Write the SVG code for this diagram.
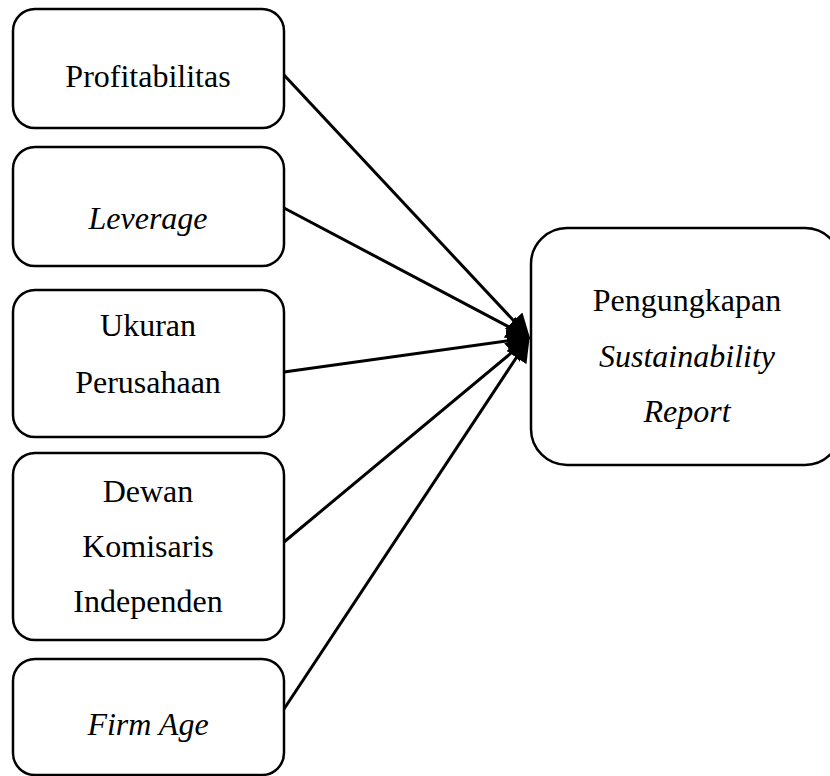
<svg xmlns="http://www.w3.org/2000/svg" width="830" height="776" viewBox="0 0 830 776">
<style>
.box{fill:#fff;stroke:#000;stroke-width:2.5}
.t{font-family:"Liberation Serif","Times New Roman",serif;font-size:32px;fill:#000;text-anchor:middle}
.i{font-style:italic}
.c{stroke:#000;stroke-width:3;fill:none;marker-end:url(#ah)}
</style>
<defs>
<marker id="ah" markerWidth="8" markerHeight="8" refX="7" refY="4" orient="auto" markerUnits="strokeWidth">
<path d="M0,0 L8,4 L0,8 z" fill="#000"/>
</marker>
</defs>
<g id="connectors">
<line class="c" x1="284" y1="75" x2="528" y2="336"/>
<line class="c" x1="284" y1="208" x2="528" y2="337"/>
<line class="c" x1="284" y1="372" x2="528" y2="338"/>
<line class="c" x1="284" y1="542" x2="528" y2="339"/>
<line class="c" x1="284" y1="709" x2="528" y2="340"/>
</g>
<g id="profitabilitas">
<rect class="box" x="13" y="9" width="271" height="119" rx="22"/>
<text class="t" x="148" y="87">Profitabilitas</text>
</g>
<g id="leverage">
<rect class="box" x="13" y="147" width="271" height="119" rx="22"/>
<text class="t i" x="148" y="229">Leverage</text>
</g>
<g id="ukuran">
<rect class="box" x="13" y="290" width="271" height="147" rx="22"/>
<text class="t" x="148" y="336">Ukuran</text>
<text class="t" x="148" y="393">Perusahaan</text>
</g>
<g id="dewan">
<rect class="box" x="13" y="453" width="271" height="187" rx="22"/>
<text class="t" x="148" y="502">Dewan</text>
<text class="t" x="148" y="557">Komisaris</text>
<text class="t" x="148" y="612">Independen</text>
</g>
<g id="firmage">
<rect class="box" x="13" y="659" width="271" height="116" rx="22"/>
<text class="t i" x="148" y="735">Firm Age</text>
</g>
<g id="pengungkapan">
<rect class="box" x="531" y="228" width="310" height="237" rx="36"/>
<text class="t" x="687" y="311">Pengungkapan</text>
<text class="t i" x="687" y="367">Sustainability</text>
<text class="t i" x="687" y="422">Report</text>
</g>
</svg>
